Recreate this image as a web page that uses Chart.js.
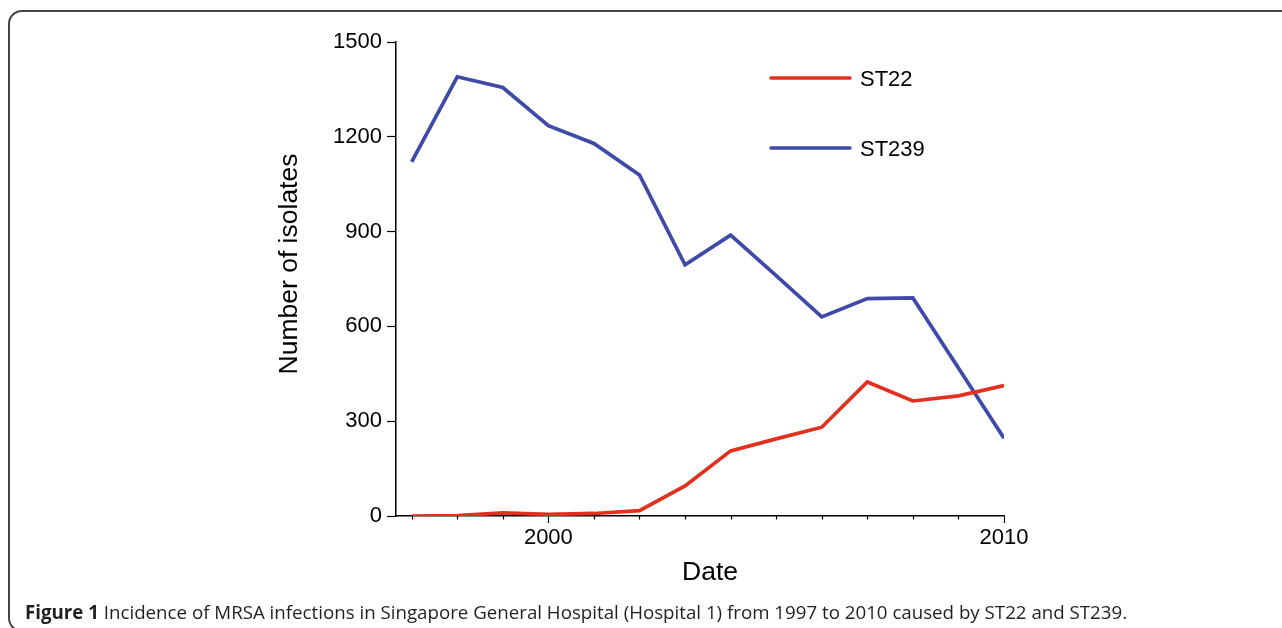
<!DOCTYPE html>
<html>
<head>
<meta charset="utf-8">
<script src="https://cdn.jsdelivr.net/npm/chart.js@4/dist/chart.umd.min.js"></script>
<style>
  html, body { margin: 0; padding: 0; background: #fff; width: 1282px; height: 628px; overflow: hidden; }
  #frame { position: absolute; left: 8px; top: 10px; width: 1400px; height: 622px; border: 2px solid #444; border-radius: 14px; box-sizing: border-box; }
  #wrap { position: absolute; left: 0; top: 0; width: 1282px; height: 628px; }
  #caption { position: absolute; left: 25px; top: 601px; line-height: 22px; font-family: "Open Sans", sans-serif; font-size: 18.72px; color: #231f20; white-space: nowrap; }
  #caption b { font-weight: 700; }
</style>
</head>
<body>
<div id="wrap"><canvas id="c" width="1282" height="628"></canvas></div>
<div id="frame"></div>
<div id="caption"><b>Figure 1</b> Incidence of MRSA infections in Singapore General Hospital (Hospital 1) from 1997 to 2010 caused by ST22 and ST239.</div>
<script>
const years = [1997, 1998, 1999, 2000, 2001, 2002, 2003, 2004, 2005, 2006, 2007, 2008, 2009, 2010];
const st22 = [0, 1, 10, 5, 8, 17, 95, 206, 244, 281, 424, 364, 380, 413];
const st239 = [1121, 1390, 1356, 1235, 1179, 1079, 795, 889, 761, 630, 688, 690, 468, 246];
const seriesNames = ['ST22', 'ST239'];
const xTickLabels = [2000, 2010];
const yTicks = [0, 300, 600, 900, 1200, 1500];
const xTitle = 'Date';
const yTitle = 'Number of isolates';

const RED = '#e2301f';
const BLUE = '#3f4aa8';
const FONT = '"Liberation Sans", Arial, sans-serif';

const minorTicks = {
  id: 'minorTicks',
  afterDraw(chart) {
    const xs = chart.scales.x;
    const ctx = chart.ctx;
    ctx.save();
    ctx.strokeStyle = '#000';
    ctx.lineWidth = 1.2;
    xs.ticks.forEach(t => {
      if (!xTickLabels.includes(t.value)) {
        const px = Math.round(xs.getPixelForValue(t.value)) + 0.5;
        ctx.beginPath();
        ctx.moveTo(px, chart.chartArea.bottom);
        ctx.lineTo(px, chart.chartArea.bottom + 3.5);
        ctx.stroke();
      }
    });
    ctx.restore();
  }
};

const axisTitles = {
  id: 'axisTitles',
  afterDraw(chart) {
    const ctx = chart.ctx;
    const a = chart.chartArea;
    ctx.save();
    ctx.fillStyle = '#000';
    ctx.font = '26.5px ' + FONT;
    ctx.textAlign = 'center';
    ctx.textBaseline = 'alphabetic';
    ctx.fillText(xTitle, (a.left + a.right) / 2 + 10, 580);
    ctx.translate(297, (a.top + a.bottom) / 2 - 15);
    ctx.rotate(-Math.PI / 2);
    ctx.fillText(yTitle, 0, 0);
    ctx.restore();
  }
};

const insideLegend = {
  id: 'insideLegend',
  afterDraw(chart) {
    const ctx = chart.ctx;
    const rows = [78, 148];
    ctx.save();
    chart.data.datasets.forEach((ds, i) => {
      const y = rows[i];
      ctx.strokeStyle = ds.borderColor;
      ctx.lineWidth = 3.5;
      ctx.lineCap = 'round';
      ctx.beginPath();
      ctx.moveTo(771, y);
      ctx.lineTo(850, y);
      ctx.stroke();
      ctx.fillStyle = '#000';
      ctx.font = '22px ' + FONT;
      ctx.textBaseline = 'middle';
      ctx.textAlign = 'left';
      ctx.fillText(ds.label, 860, y + 1.5);
    });
    ctx.restore();
  }
};

new Chart(document.getElementById('c'), {
  type: 'line',
  data: {
    datasets: [
      { label: seriesNames[0], data: years.map((y, i) => ({ x: y, y: st22[i] })), borderColor: RED, backgroundColor: RED, borderWidth: 3.7, pointRadius: 0, tension: 0, fill: false },
      { label: seriesNames[1], data: years.map((y, i) => ({ x: y, y: st239[i] })), borderColor: BLUE, backgroundColor: BLUE, borderWidth: 3.7, pointRadius: 0, tension: 0, fill: false }
    ]
  },
  options: {
    responsive: false,
    animation: false,
    devicePixelRatio: 1,
    layout: { padding: { left: 267, right: 278, top: 42, bottom: 37 } },
    plugins: { legend: { display: false }, tooltip: { enabled: false } },
    scales: {
      x: {
        type: 'linear',
        min: 1996.656,
        max: 2010,
        afterFit(s) { s.height = 75; },
        ticks: {
          stepSize: 1,
          includeBounds: false,
          autoSkip: false,
          maxRotation: 0,
          padding: 2,
          color: '#000',
          font: { family: FONT, size: 22 },
          callback: v => xTickLabels.includes(v) ? String(v) : ''
        },
        grid: {
          drawOnChartArea: false,
          drawTicks: true,
          tickLength: 7,
          tickWidth: 1.2,
          tickColor: c => (c.tick && xTickLabels.includes(c.tick.value)) ? '#000' : 'rgba(0,0,0,0)'
        },
        border: { display: true, color: '#000', width: 1.5 },
        title: { display: false }
      },
      y: {
        min: 0,
        max: 1500,
        afterFit(s) { s.width = 129; },
        afterBuildTicks(s) { s.ticks = yTicks.map(v => ({ value: v })); },
        ticks: {
          padding: 5,
          color: '#000',
          font: { family: FONT, size: 22 },
          callback: v => String(v)
        },
        grid: { drawOnChartArea: false, drawTicks: true, tickLength: 9, tickWidth: 1.2, tickColor: '#000' },
        border: { display: true, color: '#000', width: 1.5 },
        title: { display: false }
      }
    }
  },
  plugins: [minorTicks, axisTitles, insideLegend]
});
</script>
</body>
</html>
